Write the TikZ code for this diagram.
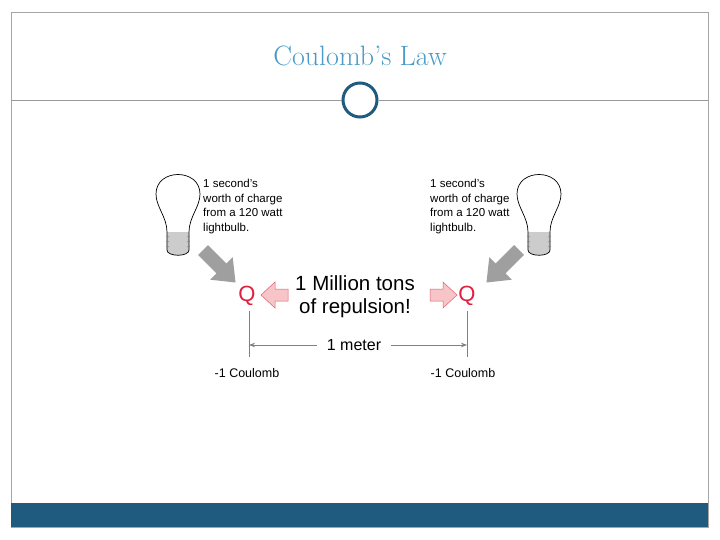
\documentclass[tikz,border=0pt]{standalone}
\usepackage{fontspec}
\setsansfont{Liberation Sans}
\usetikzlibrary{arrows.meta}
\definecolor{ttl}{HTML}{4A9BC7}
\definecolor{bar}{HTML}{1F5A7F}
\definecolor{qred}{HTML}{E0203C}
\definecolor{pinkf}{HTML}{F7C4C8}
\definecolor{pinkd}{HTML}{E06070}
\tikzset{
  lbl/.style={font=\sffamily\fontsize{11.5}{14.5}\selectfont, align=left, inner sep=0},
  big/.style={font=\sffamily\fontsize{20.5}{23}\selectfont, align=center, inner sep=0},
  qq/.style={font=\sffamily\fontsize{22}{24}\selectfont, text=qred, inner sep=0},
  grayarrow/.style={fill=gray!75, draw=none},
  pinkarrow/.style={fill=pinkf, draw=pinkd, line width=0.5pt},
  dim/.style={gray, line width=0.8pt},
}
\newcommand{\bulb}[1]{%
 \begin{scope}[shift={#1}]
  \fill[gray!40] (-11,60) -- (11,60) -- (11,78) .. controls (11,85) and (-11,85) .. (-11,78) -- cycle;
  \draw[line width=0.7pt] (-11,78) -- (-11,60) .. controls (-11,45) and (-22,35) .. (-22,22)
     .. controls (-22,-4) and (22,-4) .. (22,22) .. controls (22,35) and (11,45) .. (11,60) -- (11,78)
     .. controls (11,85) and (-11,85) .. (-11,78);
  \foreach \y in {64,69,74}{\draw[gray, line width=0.5pt] (-12,\y) -- (-9,\y+1); \draw[gray,line width=0.5pt] (12,\y) -- (9,\y+1);}
 \end{scope}}
\begin{document}
\begin{tikzpicture}[x=1pt,y=-1pt]
\useasboundingbox (0,0) rectangle (720,540);
\fill[white] (0,0) rectangle (720,540);
\draw[gray!70, line width=0.6pt] (11,12) rectangle (708,527);
\fill[bar] (11,503) rectangle (708,527);
\node[font=\fontsize{28}{32}\selectfont, text=ttl] (title) at (360,56) {Coulomb's Law};
\node[circle, draw=bar, line width=3pt, minimum size=34pt, inner sep=0] (circ) at (360,100) {};
\coordinate (hl) at (11,100); \coordinate (hr) at (708,100);
\draw[gray!80, line width=0.8pt] (hl) -- (circ.west);
\draw[gray!80, line width=0.8pt] (circ.east) -- (hr);
\bulb{(178,172)}
\bulb{(539,172)}
\node[lbl, anchor=north west] (tl) at (203,179) {1 second's\\worth of charge\\from a 120 watt\\lightbulb.};
\node[lbl, anchor=north west] (tr) at (430,179) {1 second's\\worth of charge\\from a 120 watt\\lightbulb.};
\node[qq] (ql) at (247,296) {Q};
\node[qq] (qr) at (467,296) {Q};
% gray arrows
\fill[grayarrow, shift={(203,250)}, rotate=-45] (0,-7) -- (26,-7) -- (26,-16) -- (46,0) -- (26,16) -- (26,7) -- (0,7) -- cycle;
\fill[grayarrow, shift={(519,250)}, rotate=-135] (0,-7) -- (26,-7) -- (26,-16) -- (46,0) -- (26,16) -- (26,7) -- (0,7) -- cycle;
% pink arrows
\draw[pinkarrow, shift={(288,295)}, xscale=-1] (0,-6) -- (13,-6) -- (13,-13) -- (27,0) -- (13,13) -- (13,6) -- (0,6) -- cycle;
\draw[pinkarrow, shift={(430,295)}] (0,-6) -- (13,-6) -- (13,-13) -- (27,0) -- (13,13) -- (13,6) -- (0,6) -- cycle;
\node[big] (mt) at (355,297) {1 Million tons\\of repulsion!};
\coordinate (la) at (249,311); \coordinate (lb) at (249,357);
\coordinate (ra) at (467,311); \coordinate (rb) at (467,357);
\draw[dim] (la) -- (lb); \draw[dim] (ra) -- (rb);
\node[font=\sffamily\fontsize{16}{18}\selectfont, inner sep=0] (m) at (354,345) {1 meter};
\coordinate (da) at (249,345); \coordinate (db) at (467,345);
\draw[dim, -{Stealth[length=6pt]}] ([xshift=-10pt]m.west) -- (da);
\draw[dim, -{Stealth[length=6pt]}] ([xshift=10pt]m.east) -- (db);
\node[font=\sffamily\fontsize{12.5}{14}\selectfont, inner sep=0] (cl) at (247,373) {-1 Coulomb};
\node[font=\sffamily\fontsize{12.5}{14}\selectfont, inner sep=0] (cr) at (463,373) {-1 Coulomb};
\end{tikzpicture}
\end{document}
